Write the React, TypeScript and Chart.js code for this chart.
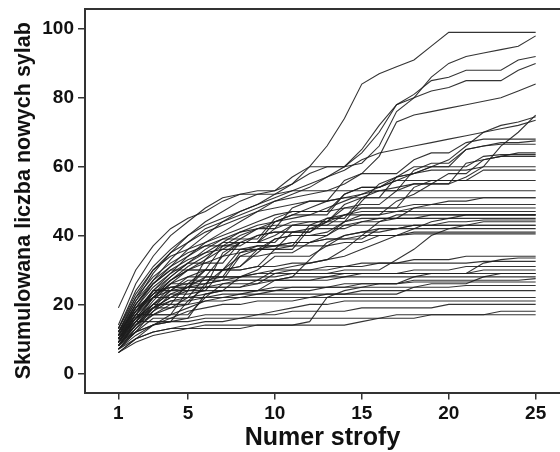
import React, { useEffect, useRef } from "react";
import { Chart, registerables } from "chart.js";

Chart.register(...registerables);

const strophes = [1, 2, 3, 4, 5, 6, 7, 8, 9, 10, 11, 12, 13, 14, 15, 16, 17, 18, 19, 20, 21, 22, 23, 24, 25];
const xTickValues = [1, 5, 10, 15, 20, 25];
const yTickValues = [0, 20, 40, 60, 80, 100];

// high group
const s01 = [14, 26, 34, 40, 44, 48, 51, 52, 53, 53, 57, 60, 66, 74, 84, 87, 89, 91, 95, 99, 99, 99, 99, 99, 99];
const s02 = [10, 19, 26, 31, 36, 40, 44, 47, 49, 52, 55, 58, 60, 60, 61, 66, 76, 80, 86, 90, 92, 93, 94, 95, 98];
const s03 = [12, 21, 29, 35, 40, 44, 47, 50, 52, 53, 55, 60, 60, 60, 64, 70, 78, 81, 85, 86, 88, 88, 88, 91, 92];
const s04 = [9, 17, 24, 29, 34, 38, 41, 44, 47, 50, 52, 54, 57, 60, 65, 72, 78, 80, 82, 83, 85, 85, 85, 88, 90];
const s05 = [11, 20, 27, 33, 38, 42, 44, 46, 48, 50, 51, 52, 53, 55, 58, 63, 73, 75, 76, 77, 78, 79, 80, 82, 84];
const s06 = [8, 15, 22, 27, 31, 34, 37, 40, 42, 44, 46, 48, 50, 51, 52, 53, 54, 55, 55, 55, 57, 60, 66, 70, 75];
const s07 = [13, 24, 31, 36, 40, 43, 45, 47, 49, 51, 53, 55, 57, 59, 62, 64, 65, 66, 67, 68, 69, 70, 71, 72, 73.5];
const s08 = [10, 18, 24, 28, 32, 35, 38, 41, 43, 44, 45, 46, 48, 50, 52, 54, 56, 58, 60, 62, 66, 70, 72, 73, 74.5];
// upper-middle group
const s09 = [9, 16, 22, 27, 30, 33, 36, 39, 42, 42, 48, 50, 50, 56, 58, 58, 58, 62, 64, 64, 67, 68, 68, 68, 68];
const s10 = [12, 20, 26, 30, 30, 30, 37, 38, 38, 42, 44, 44, 44, 49, 51, 51, 57, 60, 60, 60, 65, 66, 67, 67, 67.5];
const s11 = [7, 13, 19, 24, 28, 28, 28, 35, 37, 37, 37, 43, 45, 45, 51, 53, 53, 59, 61, 61, 65, 66, 66.5, 66.5, 66.5];
const s12 = [11, 19, 25, 29, 32, 32, 32, 38, 40, 41, 41, 41, 45, 46, 46, 46, 50, 52, 55, 58, 58, 62, 63, 64, 64];
const s13 = [10, 17, 23, 28, 32, 36, 39, 39, 39, 45, 47, 47, 47, 52, 54, 54, 57, 58, 60, 60, 60, 63, 63.5, 63.5, 63.5];
const s14 = [8, 14, 20, 25, 25, 25, 35, 38, 38, 38, 43, 44, 44, 48, 49, 49, 53, 55, 55, 55, 61, 62, 63, 63, 63];
const s15 = [13, 22, 28, 32, 35, 37, 37, 37, 40, 41, 41, 41, 44, 46, 48, 48, 48, 54, 56, 56, 56, 59, 59, 59, 59];
const s16 = [9, 17, 24, 24, 24, 33, 38, 38, 38, 44, 46, 46, 46, 52, 54, 54, 56, 56, 56, 56, 56, 56, 56, 56, 56];
const s46 = [11, 20, 26, 30, 33, 35, 36, 36, 37, 37, 38, 38, 40, 44, 50, 55, 57, 58, 59, 59, 59, 60, 60, 60, 60];
// middle group
const s17 = [12, 22, 30, 35, 38, 41, 43, 45, 47, 48, 49, 50, 50, 51, 51, 51, 51, 51, 51, 51, 51, 51, 51, 51, 51];
const s49 = [19, 30, 37, 42, 45, 47, 50, 52, 52, 52, 53, 53, 53, 53, 53, 53, 53, 53, 53, 53, 53, 53, 53, 53, 53];
const s18 = [8, 15, 21, 26, 30, 30, 30, 31, 36, 39, 40, 40, 41, 44, 45, 45, 45, 48, 49, 50, 50, 51, 51, 51, 51];
const s19 = [10, 18, 24, 25, 25, 28, 34, 38, 38, 40, 43, 43, 43, 46, 47, 47, 47, 48, 48, 48, 48, 48, 48, 48, 48];
const s20 = [11, 19, 22, 22, 25, 30, 30, 31, 35, 39, 40, 40, 40, 43, 44, 44, 45, 45, 46, 46, 46, 46, 46, 46, 46];
const s21 = [7, 12, 18, 23, 23, 24, 30, 36, 36, 36, 41, 42, 42, 42, 44, 45, 45, 45, 45, 45, 45, 45, 45, 45, 45];
const s22 = [9, 16, 22, 26, 26, 26, 30, 34, 34, 35, 35, 38, 39, 39, 39, 42, 42, 43, 43, 44, 44, 44.5, 44.5, 44.5, 44.5];
const s23 = [12, 21, 27, 31, 34, 37, 39, 41, 42, 43, 43, 43, 43, 43, 43, 43, 43, 43, 43, 43, 43, 43, 43, 43, 43];
const s24 = [10, 17, 17, 20, 26, 30, 30, 30, 31, 36, 37, 37, 37, 40, 41, 41, 42, 42, 42, 42, 42, 42, 42, 42, 42];
const s25 = [8, 14, 19, 19, 22, 28, 28, 28, 30, 34, 34, 34, 37, 38, 38, 40, 40, 41, 41, 41, 41, 41, 41, 41, 41];
const s26 = [11, 18, 23, 27, 30, 32, 34, 35, 36, 37, 38, 38, 39, 39, 40, 40, 40, 40.5, 40.5, 40.5, 40.5, 40.5, 40.5, 40.5, 40.5];
const s27 = [9, 15, 20, 24, 27, 27, 27, 34, 36, 36, 36, 42, 44, 44, 46, 46, 47, 47, 47, 47, 47, 47, 47, 47, 47];
const s28 = [13, 23, 30, 34, 36, 38, 40, 42, 44, 46, 47, 47, 47, 48, 48, 48, 48, 49, 49, 49, 49, 49, 49, 49, 49];
const s44 = [9, 16, 20, 23, 25, 25, 25, 25, 26, 27, 28, 33, 38, 40, 41, 42, 42, 43, 43, 43, 43, 43, 43, 43, 43];
const s45 = [10, 17, 22, 26, 28, 30, 30, 30, 31, 31, 32, 32, 33, 36, 40, 44, 46, 46, 46, 46, 46, 46, 46, 46, 46];
const s47 = [8, 14, 19, 22, 24, 24, 24, 28, 28, 28, 29, 29, 29, 30, 30, 30, 33, 36, 40, 42, 43, 44, 44, 44, 44];
const s48 = [12, 18, 22, 24, 25, 26, 27, 28, 29, 30, 31, 32, 33, 34, 36, 38, 40, 42, 44, 45, 46, 46, 46, 46, 46];
// lower-middle group
const s29 = [8, 14, 18, 21, 21, 25, 26, 26, 26, 29, 30, 30, 30, 31, 32, 32, 32, 33, 33, 33, 34, 34, 34, 34, 34];
const s30 = [10, 16, 20, 20, 20, 26, 27, 27, 27, 30, 30, 30, 31, 31, 31, 32, 32, 32, 32, 32, 32, 32.5, 32.5, 32.5, 32.5];
const s31 = [7, 12, 16, 16, 16, 23, 24, 24, 24, 27, 27, 27, 28, 28, 29, 29, 29, 30, 30, 30, 31, 31, 31, 31, 31];
const s32 = [9, 15, 19, 22, 22, 22, 26, 27, 27, 27, 28, 28, 28, 29, 29, 29, 29, 29, 29, 29, 29, 29, 29, 29, 29];
const s33 = [11, 17, 17, 17, 24, 25, 25, 25, 27, 27, 27, 27, 27, 28, 28, 28, 28, 28, 28, 28, 28, 28, 28, 28, 28];
const s34 = [6, 10, 14, 17, 19, 21, 22, 23, 24, 24, 25, 25, 25, 26, 26, 26, 26, 26.5, 26.5, 26.5, 26.5, 26.5, 26.5, 26.5, 26.5];
const s35 = [8, 13, 17, 17, 17, 22, 23, 23, 23, 24, 24, 24, 25, 25, 25, 25, 25, 25, 25, 25, 25.5, 25.5, 25.5, 25.5, 25.5];
const s36 = [10, 15, 15, 15, 21, 22, 22, 22, 23, 23, 23, 23, 23, 23, 24, 24, 24, 24, 24, 24, 24, 24, 24, 24, 24];
const s37 = [7, 11, 14, 16, 18, 19, 20, 20, 21, 21, 21, 22, 22, 22, 22, 22, 22, 22, 22, 22, 22, 22, 22, 22, 22];
const s38 = [12, 19, 23, 25, 26, 27, 28, 28, 29, 29, 29, 29, 29, 29, 29, 29, 29, 29, 29, 29, 29, 30, 30, 30, 30];
const s50 = [10, 16, 19, 21, 22, 23, 24, 24, 24, 25, 25, 25, 25, 25, 26, 26, 26, 28, 29, 29, 29, 32, 33, 33.5, 33.5];
const s51 = [9, 14, 17, 19, 20, 21, 21, 22, 22, 22, 22, 22, 23, 23, 23, 23, 23, 25, 26, 26, 26, 28, 29, 29, 29];
// low group
const s39 = [6, 10, 12, 13, 14, 15, 15, 16, 17, 18, 19, 20, 20, 21, 21, 21, 21, 21, 21, 21, 21, 21, 21, 21, 21];
const s40 = [8, 12, 14, 15, 16, 17, 17, 17, 17, 17, 18, 18, 18, 18, 19, 19, 19, 19, 19, 20, 20, 20, 20, 20, 20];
const s41 = [7, 10, 12, 13, 13, 14, 14, 14, 14, 14, 14, 14, 14, 14, 15, 16, 17, 17, 17, 17, 17, 17, 17, 17, 17];
const s42 = [9, 12, 14, 15, 15, 16, 16, 16, 16, 16, 16, 16, 16, 16, 16, 16, 16, 16, 17, 17, 17, 17, 18, 18, 18];
const s43 = [6, 9, 11, 12, 13, 13, 13, 13, 14, 14, 14, 15, 22, 24, 25, 26, 26, 27, 27, 27, 27, 27, 27, 27, 27.5];

const allSeries = [
  s01, s02, s03, s04, s05, s06, s07, s08, s09, s10, s11, s12, s13, s14, s15, s16, s46,
  s17, s49, s18, s19, s20, s21, s22, s23, s24, s25, s26, s27, s28, s44, s45, s47, s48,
  s29, s30, s31, s32, s33, s34, s35, s36, s37, s38, s50, s51,
  s39, s40, s41, s42, s43,
];

const FONT = '"Liberation Sans", Arial, Helvetica, sans-serif';
const AXIS_COLOR = "#333333";

export default function App() {
  const ref = useRef<HTMLCanvasElement | null>(null);

  useEffect(() => {
    if (!ref.current) return;
    const chart = new Chart(ref.current, {
      type: "line",
      data: {
        datasets: allSeries.map((s, k) => ({
          label: "s" + k,
          data: s.map((v, i) => ({ x: strophes[i], y: v })),
          borderColor: "rgba(30,30,30,0.9)",
          borderWidth: 1.1,
          pointRadius: 0,
          tension: 0,
          fill: false,
        })),
      },
      options: {
        responsive: false,
        animation: false,
        devicePixelRatio: 1,
        layout: { padding: { top: 9, right: 0, bottom: 0, left: 0 } },
        plugins: { legend: { display: false }, tooltip: { enabled: false } },
        scales: {
          x: {
            type: "linear",
            position: "bottom",
            min: -0.92,
            max: 26.4,
            afterBuildTicks: (s: any) => {
              s.ticks = xTickValues.map((v) => ({ value: v }));
            },
            afterFit: (s: any) => {
              s.height = 59.5;
              s.paddingLeft = 0;
              s.paddingRight = 0;
            },
            grid: {
              display: true,
              drawOnChartArea: false,
              drawTicks: true,
              tickLength: 7,
              color: AXIS_COLOR,
              lineWidth: 1.5,
            },
            border: { display: true, color: AXIS_COLOR, width: 2 },
            ticks: {
              color: "#111",
              font: { family: FONT, size: 19, weight: "bold" },
              padding: 3,
              maxRotation: 0,
              autoSkip: false,
            },
            title: {
              display: true,
              text: "Numer strofy",
              color: "#111",
              font: { family: FONT, size: 25, weight: "bold", lineHeight: 1 },
              padding: { top: 0, bottom: 1 },
            },
          },
          x2: {
            type: "linear",
            position: "top",
            min: -0.92,
            max: 26.4,
            afterFit: (s: any) => {
              s.height = 0;
            },
            grid: { display: false, drawOnChartArea: false, drawTicks: false },
            border: { display: true, color: AXIS_COLOR, width: 2 },
            ticks: { display: false },
          },
          y: {
            type: "linear",
            position: "left",
            min: -5.58,
            max: 105.8,
            afterBuildTicks: (s: any) => {
              s.ticks = yTickValues.map((v) => ({ value: v }));
            },
            afterFit: (s: any) => {
              s.width = 85;
              s.paddingTop = 0;
              s.paddingBottom = 0;
            },
            grid: {
              display: true,
              drawOnChartArea: false,
              drawTicks: true,
              tickLength: 7,
              color: AXIS_COLOR,
              lineWidth: 1.5,
            },
            border: { display: true, color: AXIS_COLOR, width: 2 },
            ticks: {
              color: "#111",
              font: { family: FONT, size: 19, weight: "bold" },
              padding: 4,
              autoSkip: false,
            },
            title: {
              display: true,
              text: "Skumulowana liczba nowych sylab",
              color: "#111",
              font: { family: FONT, size: 21.5, weight: "bold", lineHeight: 1 },
              padding: { top: 13, bottom: 0 },
            },
          },
        },
      },
    });
    return () => chart.destroy();
  }, []);

  return (
    <div style={{ position: "fixed", left: 0, top: 0, width: 560, height: 452, background: "#fff" }}>
      <canvas ref={ref} width={560} height={452} style={{ display: "block" }} />
    </div>
  );
}
